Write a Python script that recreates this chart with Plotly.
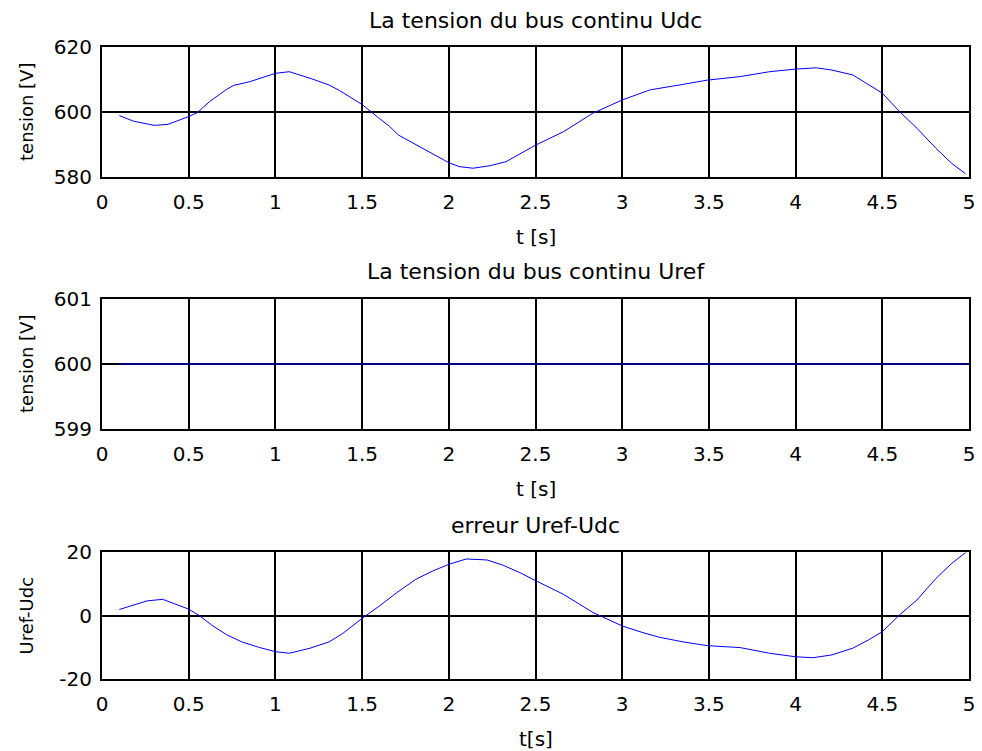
import plotly.graph_objects as go

# ---- data ----
t_udc = [0.1, 0.18, 0.3, 0.38, 0.5, 0.55, 0.62, 0.72, 0.76, 0.85, 1.0, 1.08, 1.21, 1.31, 1.37,
         1.5, 1.6, 1.66, 1.71, 1.78, 1.87, 2.0, 2.06, 2.14, 2.24, 2.33, 2.5, 2.66, 2.83, 3.0,
         3.16, 3.22, 3.35, 3.49, 3.68, 3.85, 4.0, 4.12, 4.21, 4.33, 4.42, 4.5, 4.6, 4.7, 4.81,
         4.9, 4.98]
udc = [598.9, 597.2, 595.9, 596.2, 598.6, 599.8, 603.2, 607.0, 608.2, 609.3, 611.9, 612.4,
       610.2, 608.3, 606.6, 602.3, 598.0, 595.5, 592.9, 590.9, 588.3, 584.4, 583.2, 582.7,
       583.5, 584.7, 589.8, 593.9, 599.6, 603.7, 606.8, 607.3, 608.5, 609.8, 610.9, 612.4,
       613.2, 613.6, 612.9, 611.4, 608.3, 605.8, 600.1, 595.0, 588.8, 584.2, 581.0]

t_ref = [0.1, 5.0]
uref = [600, 600]

t_err = [0.1, 0.18, 0.26, 0.35, 0.43, 0.5, 0.56, 0.64, 0.72, 0.81, 0.91, 1.0, 1.08, 1.2, 1.31,
         1.39, 1.5, 1.6, 1.7, 1.81, 1.91, 2.0, 2.1, 2.22, 2.31, 2.41, 2.5, 2.66, 2.83, 3.0,
         3.12, 3.21, 3.35, 3.49, 3.68, 3.85, 4.0, 4.1, 4.21, 4.33, 4.42, 4.5, 4.6, 4.7, 4.81,
         4.9, 4.98]
err = [1.9, 3.3, 4.6, 5.1, 3.5, 2.0, 0.0, -3.3, -6.1, -8.4, -10.1, -11.4, -11.9, -10.3, -8.3,
       -5.6, -0.9, 3.0, 7.2, 11.4, 14.1, 16.1, 17.8, 17.5, 15.9, 13.5, 11.0, 6.7, 1.0, -3.3,
       -5.4, -6.8, -8.3, -9.5, -10.1, -11.9, -13.0, -13.3, -12.4, -10.3, -7.7, -5.1, 0.2, 4.9,
       11.7, 16.4, 19.8]

x_ticks = [0, 0.5, 1, 1.5, 2, 2.5, 3, 3.5, 4, 4.5, 5]
y1_ticks = [580, 600, 620]
y2_ticks = [599, 600, 601]
y3_ticks = [-20, 0, 20]
y3_labels = ["-20", "0", "20"]

# page body has an 8 px margin: the figure starts at (8, 8) and runs to the window edge
OFF = 8
W, H = 982 - OFF, 751 - OFF
FONT = "DejaVu Sans"
LINE = "#0000FF"

def px(sx):
    return (sx - OFF) / W

def py(sy):
    return 1 - (sy - OFF) / H

x_dom = [px(102), px(969)]
plots = [
    dict(top=47, bot=177, yr=[580, 620], tv=y1_ticks, tt=[str(v) for v in y1_ticks],
         title="La tension du bus continu Udc", ylab="tension [V]", xlab="t [s]",
         t=t_udc, v=udc),
    dict(top=299, bot=429, yr=[599, 601], tv=y2_ticks, tt=[str(v) for v in y2_ticks],
         title="La tension du bus continu Uref", ylab="tension [V]", xlab="t [s]",
         t=t_ref, v=uref),
    dict(top=552, bot=679, yr=[-20, 20], tv=y3_ticks, tt=y3_labels,
         title="erreur Uref-Udc", ylab="Uref-Udc", xlab="t[s]", t=t_err, v=err),
]

fig = go.Figure()
layout = dict(width=W, height=H, margin=dict(l=0, r=0, t=0, b=0),
              paper_bgcolor="white", plot_bgcolor="white", showlegend=False,
              font=dict(family=FONT, color="black", size=20))
annotations = []
for i, p in enumerate(plots, start=1):
    sfx = "" if i == 1 else str(i)
    fig.add_trace(go.Scatter(x=p["t"], y=p["v"], mode="lines",
                             line=dict(color=LINE, width=1),
                             xaxis="x" + sfx, yaxis="y" + sfx))
    layout["xaxis" + sfx] = dict(domain=x_dom, anchor="y" + sfx, range=[0, 5],
                                 tickvals=x_ticks, showgrid=True, gridcolor="black",
                                 gridwidth=1.5, showline=True, linecolor="black",
                                 linewidth=2, mirror=True, ticks="", zeroline=False,
                                 automargin=False, ticklabelstandoff=6,
                                 tickfont=dict(family=FONT, size=20, color="black"))
    layout["yaxis" + sfx] = dict(domain=[py(p["bot"]), py(p["top"])], anchor="x" + sfx,
                                 range=p["yr"], tickvals=p["tv"], ticktext=p["tt"],
                                 showgrid=True, gridcolor="black", gridwidth=1.5,
                                 showline=True, linecolor="black", linewidth=2,
                                 mirror=True, ticks="", zeroline=False,
                                 automargin=False, ticklabelstandoff=4,
                                 tickfont=dict(family=FONT, size=20, color="black"))
    cx = (x_dom[0] + x_dom[1]) / 2
    annotations.append(dict(text=p["title"], x=cx, y=py(p["top"] - 27), xref="paper",
                            yref="paper", showarrow=False, xanchor="center",
                            yanchor="middle", font=dict(family=FONT, size=22)))
    annotations.append(dict(text=p["xlab"], x=cx, y=py(p["bot"] + 60), xref="paper",
                            yref="paper", showarrow=False, xanchor="center",
                            yanchor="middle", font=dict(family=FONT, size=20)))
    annotations.append(dict(text=p["ylab"], x=px(26), y=py((p["top"] + p["bot"]) / 2),
                            xref="paper", yref="paper", showarrow=False, textangle=-90,
                            xanchor="center", yanchor="middle",
                            font=dict(family=FONT, size=18)))

layout["annotations"] = annotations
fig.update_layout(**layout)
fig.write_html("out.html")
